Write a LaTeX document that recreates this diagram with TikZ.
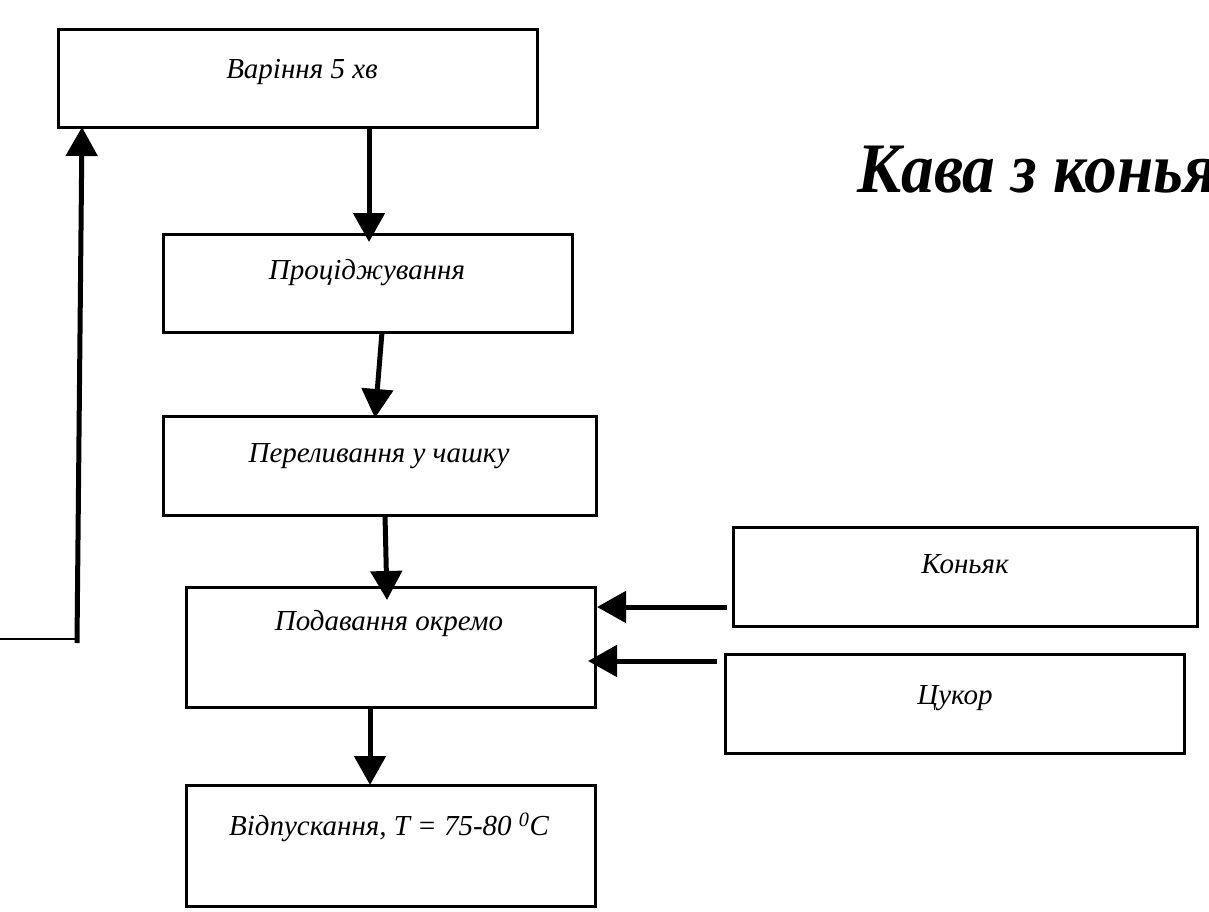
\documentclass[tikz,border=0pt]{standalone}
\usepackage{graphicx}
\usepackage{fontspec}
\setmainfont{Liberation Serif}
\usetikzlibrary{arrows.meta,calc}
\begin{document}
\begin{tikzpicture}[x=1pt,y=-1pt,
  box/.style={draw,line width=3pt,rectangle,inner sep=0pt,outer sep=0pt,anchor=north west},
  lbl/.style={font=\fontsize{29}{34}\selectfont\itshape,inner sep=0pt},
  arr/.style={line width=5pt,-{Triangle[width=31pt,length=29pt]}},
  thinline/.style={line width=2pt}
]
\fill[white] (0,0) rectangle (1209,912);
\useasboundingbox (0,0) rectangle (1209,912);
\clip (0,0) rectangle (1209,912);

% boxes
\node[box,minimum width=479pt,minimum height=98pt] (b1) at (58,30) {};
\node[box,minimum width=409pt,minimum height=98pt] (b2) at (163,234) {};
\node[box,minimum width=433pt,minimum height=99pt] (b3) at (163,416) {};
\node[box,minimum width=409pt,minimum height=120pt] (b4) at (186,587) {};
\node[box,minimum width=409pt,minimum height=121pt] (b5) at (186,785) {};
\node[box,minimum width=464pt,minimum height=99pt] (k) at (733,527) {};
\node[box,minimum width=459pt,minimum height=99pt] (c) at (725,654) {};

% labels
\node[lbl] (t1) at (302,72) {Варіння 5 хв};
\node[lbl] (t2) at (367,273) {Проціджування};
\node[lbl] (t3) at (379,456) {Переливання у чашку};
\node[lbl] (t4) at (389,624) {Подавання окремо};
\node[lbl] (t5) at (389,827) {Відпускання, T = 75-80 \textsuperscript{0}C};
\node[lbl] (tk) at (965,564) {Коньяк};
\node[lbl] (tc) at (955,698) {Цукор};

% title (cut at the right edge, as in the reference)
\node[anchor=base west,inner sep=0pt,font=\fontsize{71}{80}\selectfont\bfseries\itshape] (title) at (857,193) {\scalebox{0.92}[1]{Кава з коньяком}};

% connectors
\draw[arr] ($(b1.south west)+(311,0)$) -- ($(b2.north west)+(206,8)$);
\draw[arr] ($(b2.south west)+(219,0)$) -- ($(b3.north west)+(212,2)$);
\draw[arr] ($(b3.south west)+(222,0)$) -- ($(b4.north west)+(201,13)$);
\draw[arr] ($(b4.south west)+(184,0)$) -- ($(b5.north west)+(184,0)$);
\draw[arr] ($(k.south west)+(-6,-19)$) -- ($(b4.north east)+(2,20)$);
\draw[arr] ($(c.north west)+(-8,7)$) -- ($(b4.north east)+(-7,74)$);

% feedback line
\coordinate (fb0) at (0,639);
\coordinate (fb1) at (77,639);
\coordinate (fb2) at (77,643);
\draw[thinline] (fb0) -- (fb1);
\draw[arr] (fb2) -- ($(b1.south west)+(24,-1)$);
\end{tikzpicture}
\end{document}
